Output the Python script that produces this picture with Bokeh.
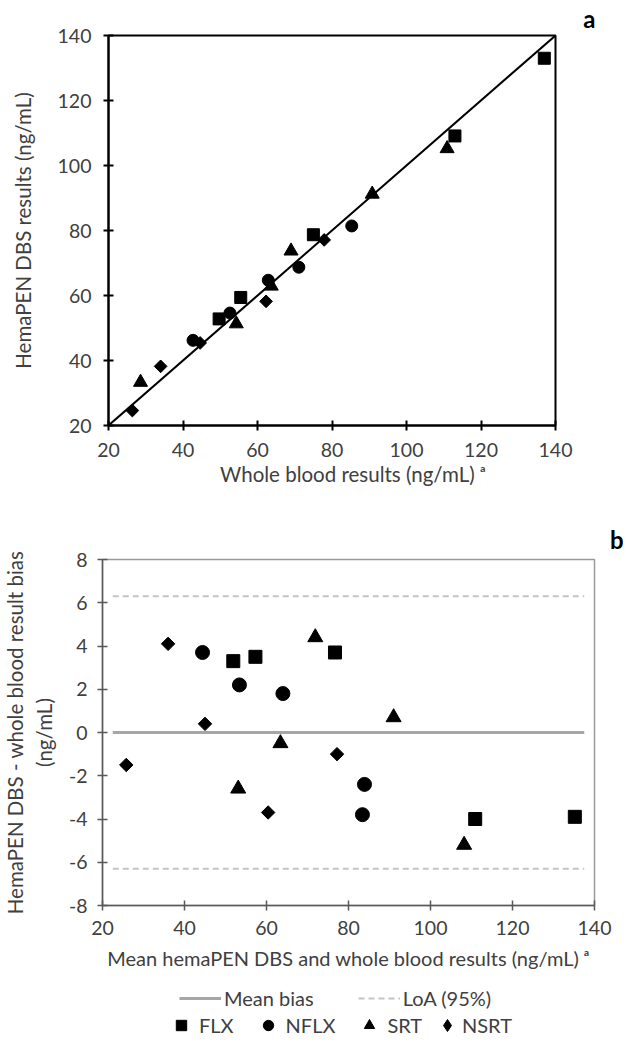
import math
from bokeh.plotting import figure
from bokeh.layouts import column
from bokeh.models import Range1d, Legend, LegendItem, FixedTicker
from bokeh.embed import file_html
from bokeh.resources import INLINE

FONT = "Lato"
TXT = "#404040"
FS_TICK = "19.5px"
FS_LABEL = "20.5px"
NBSP = "\u00a0"
NAN = float("nan")

# ---------------- data: panel a (whole blood vs hemaPEN DBS, ng/mL) ----------------
flx_wb = [137.0, 113.0, 75.0, 55.5, 49.7]
flx_dbs = [133.0, 109.1, 78.7, 59.4, 52.8]
nflx_wb = [85.3, 71.1, 62.9, 52.6, 42.7]
nflx_dbs = [81.4, 68.7, 64.7, 54.6, 46.2]
srt_wb = [110.9, 90.8, 69.0, 63.7, 54.3, 28.6]
srt_dbs = [105.2, 91.2, 73.7, 62.9, 51.3, 33.3]
nsrt_wb = [77.9, 62.3, 44.6, 34.0, 26.4]
nsrt_dbs = [77.1, 58.2, 45.4, 38.2, 24.6]
identity_line = [20, 140]
ticks_a = [20, 40, 60, 80, 100, 120, 140]

# ---------------- data: panel b (Bland-Altman) ----------------
flx_mean = [51.9, 57.3, 76.7, 110.9, 135.2]
flx_bias = [3.3, 3.5, 3.7, -4.0, -3.9]
nflx_mean = [44.4, 53.4, 64.0, 83.9, 83.4]
nflx_bias = [3.7, 2.2, 1.8, -2.4, -3.8]
srt_mean = [71.9, 91.0, 63.4, 53.1, 108.2]
srt_bias = [4.4, 0.7, -0.5, -2.6, -5.2]
nsrt_mean = [36.0, 45.0, 25.8, 60.4, 77.2]
nsrt_bias = [4.1, 0.4, -1.5, -3.7, -1.0]
mean_bias = 0.0
loa_upper = 6.3
loa_lower = -6.3
bias_line_x = [22.5, 137.5]
ticks_b_x = [20, 40, 60, 80, 100, 120, 140]
ticks_b_y = [-8, -6, -4, -2, 0, 2, 4, 6, 8]

series_labels = ["FLX", "NFLX", "SRT", "NSRT"]
line_labels = ["Mean bias", "LoA (95%)"]

MEAN_STYLE = dict(line_color="#a6a6a6", line_width=3)
LOA_STYLE = dict(line_color="#c4c4c4", line_width=2, line_dash="6 4")
MARKERS = [dict(marker="square", angle=0.0), dict(marker="circle", angle=0.0),
           dict(marker="triangle", angle=0.0), dict(marker="square", angle=math.pi / 4)]


def style_axis(ax, ticks, line_color, line_width, standoff):
    ax.ticker = FixedTicker(ticks=ticks)
    ax.major_label_overrides = {t: str(t) for t in ticks}   # plain hyphen minus, as in the original
    ax.axis_line_color = line_color
    ax.axis_line_width = line_width
    ax.major_tick_line_color = line_color
    ax.major_tick_line_width = line_width
    ax.major_tick_in = 5
    ax.major_tick_out = 5
    ax.minor_tick_line_color = None
    ax.major_label_text_font = FONT
    ax.major_label_text_font_size = FS_TICK
    ax.major_label_text_color = TXT
    ax.major_label_standoff = standoff
    ax.axis_label_text_font = FONT
    ax.axis_label_text_font_size = FS_LABEL
    ax.axis_label_text_font_style = "normal"
    ax.axis_label_text_color = TXT


def panel_letter(p, letter, offset, standoff, valign):
    p.title.text = letter
    p.title.align = "right"
    p.title.offset = offset
    p.title.vertical_align = valign
    p.title.standoff = standoff
    p.title.text_font = FONT
    p.title.text_font_size = "24px"
    p.title.text_font_style = "bold"
    p.title.text_color = "black"


# ---------------- panel a ----------------
p1 = figure(width=623, height=493, x_range=Range1d(20, 140), y_range=Range1d(20, 140),
            output_backend="svg", toolbar_location=None, frame_align=False,
            min_border_left=108, min_border_right=68, min_border_top=35, min_border_bottom=68)
p1.grid.visible = False
p1.outline_line_color = "black"
p1.outline_line_width = 2
style_axis(p1.xaxis[0], ticks_a, "black", 2, 12)
style_axis(p1.yaxis[0], ticks_a, "black", 2, 12)
p1.yaxis[0].axis_label = "HemaPEN DBS results (ng/mL)"
p1.yaxis[0].axis_label_standoff = 20
# the title sits a little right of centre in the original
p1.xaxis[0].axis_label = NBSP * 8 + "Whole blood results (ng/mL) ᵃ"
p1.xaxis[0].axis_label_standoff = 2
panel_letter(p1, "a", -40, 2, "top")

p1.line(identity_line, identity_line, line_color="black", line_width=2)
p1.scatter(flx_wb, flx_dbs, size=12, color="black", **MARKERS[0])
p1.scatter(nflx_wb, nflx_dbs, size=12, color="black", **MARKERS[1])
p1.scatter(srt_wb, srt_dbs, size=14, color="black", **MARKERS[2])
p1.scatter(nsrt_wb, nsrt_dbs, size=9, color="black", **MARKERS[3])

# ---------------- panel b ----------------
p2 = figure(width=623, height=487, x_range=Range1d(20, 140), y_range=Range1d(-8, 8),
            output_backend="svg", toolbar_location=None, frame_align=False,
            min_border_left=97, min_border_right=29, min_border_top=66, min_border_bottom=75)
p2.grid.visible = False
p2.outline_line_color = "#9a9a9a"
p2.outline_line_width = 1.5
style_axis(p2.xaxis[0], ticks_b_x, "#595959", 1.5, 10)
style_axis(p2.yaxis[0], ticks_b_y, "#595959", 1.5, 10)
p2.xaxis[0].axis_label = "Mean hemaPEN DBS and whole blood results (ng/mL) ᵃ"
p2.xaxis[0].axis_label_text_font_size = "20px"
p2.xaxis[0].axis_label_standoff = 8
p2.yaxis[0].axis_label = "HemaPEN DBS - whole blood result bias\n(ng/mL)"
p2.yaxis[0].axis_label_standoff = 10
panel_letter(p2, "b", -29, 12, "bottom")

p2.line(bias_line_x, [mean_bias, mean_bias], **MEAN_STYLE)
p2.line(bias_line_x, [loa_upper, loa_upper], **LOA_STYLE)
p2.line(bias_line_x, [loa_lower, loa_lower], **LOA_STYLE)
p2.scatter(flx_mean, flx_bias, size=13, color="black", **MARKERS[0])
p2.scatter(nflx_mean, nflx_bias, size=14, color="black", **MARKERS[1])
p2.scatter(srt_mean, srt_bias, size=15, color="black", **MARKERS[2])
p2.scatter(nsrt_mean, nsrt_bias, size=9.5, color="black", **MARKERS[3])

# ---------------- legend strip (legend glyphs come from invisible NaN renderers) ----------------
pl = figure(width=623, height=57, x_range=Range1d(0, 1), y_range=Range1d(0, 1),
            output_backend="svg", toolbar_location=None, frame_align=False,
            x_axis_location=None, y_axis_location=None,
            min_border=0, min_border_left=0, min_border_right=0, min_border_top=0,
            min_border_bottom=0)
pl.grid.visible = False
pl.outline_line_color = None
lr_mean = pl.line([NAN], [NAN], **MEAN_STYLE)
lr_loa = pl.line([NAN], [NAN], **LOA_STYLE)
lr_marks = [pl.scatter([NAN], [NAN], color="black", **m) for m in MARKERS[:3]]
# legend swatches are never rotated by Bokeh, so the diamond key uses the diamond marker
lr_marks.append(pl.scatter([NAN], [NAN], color="black", marker="diamond"))

leg_common = dict(orientation="horizontal", padding=0, margin=0, border_line_color=None,
                  background_fill_alpha=0, label_text_font=FONT, label_text_font_size="20px",
                  label_text_color=TXT)
leg1 = Legend(items=[LegendItem(label=lab, renderers=[r])
                     for lab, r in zip(line_labels, [lr_mean, lr_loa])],
              location=(179, 27), glyph_width=42, glyph_height=24, label_standoff=3,
              spacing=44, **leg_common)
leg2 = Legend(items=[LegendItem(label=lab, renderers=[r])
                     for lab, r in zip(series_labels[:3], lr_marks[:3])],
              location=(168, -1), glyph_width=26, glyph_height=26, label_standoff=5,
              spacing=21, **leg_common)
leg3 = Legend(items=[LegendItem(label=series_labels[3], renderers=[lr_marks[3]])],
              location=(432, -3), glyph_width=30, glyph_height=30, label_standoff=0,
              spacing=0, **leg_common)
pl.add_layout(leg1)
pl.add_layout(leg2)
pl.add_layout(leg3)

layout = column(p1, p2, pl, spacing=0)
open("out.html", "w").write(file_html(layout, INLINE))
